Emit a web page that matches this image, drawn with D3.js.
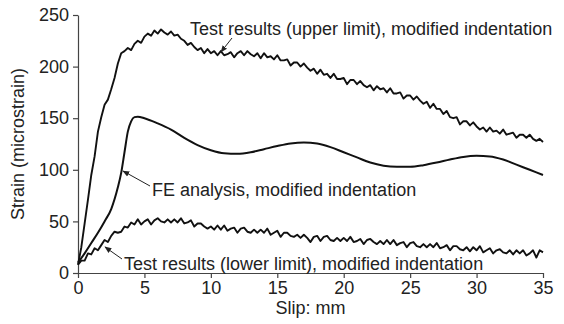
<!DOCTYPE html>
<html>
<head>
<meta charset="utf-8">
<script src="https://cdn.jsdelivr.net/npm/d3@7"></script>
<style>
  body { margin: 0; background: #fff; }
  svg { font-family: "Liberation Sans", Arial, sans-serif; }
</style>
</head>
<body>
<svg id="chart" width="564" height="324"></svg>
<script>
// sample positions (mm) of the test records
const slip = [
  0,0.25,0.5,0.75,1,1.25,1.5,1.75,2,2.25,2.5,2.75,3,3.25,3.5,3.75,4,4.25,4.5,4.75,
  5,5.25,5.5,5.75,6,6.25,6.5,6.75,7,7.25,7.5,7.75,8,8.25,8.5,8.75,9,9.25,9.5,9.75,
  10,10.25,10.5,10.75,11,11.25,11.5,11.75,12,12.25,12.5,12.75,13,13.25,13.5,13.75,14,14.25,14.5,14.75,
  15,15.25,15.5,15.75,16,16.25,16.5,16.75,17,17.25,17.5,17.75,18,18.25,18.5,18.75,19,19.25,19.5,19.75,
  20,20.25,20.5,20.75,21,21.25,21.5,21.75,22,22.25,22.5,22.75,23,23.25,23.5,23.75,24,24.25,24.5,24.75,
  25,25.25,25.5,25.75,26,26.25,26.5,26.75,27,27.25,27.5,27.75,28,28.25,28.5,28.75,29,29.25,29.5,29.75,
  30,30.25,30.5,30.75,31,31.25,31.5,31.75,32,32.25,32.5,32.75,33,33.25,33.5,33.75,34,34.25,34.5,34.75,35
];

// test results, upper limit (microstrain)
const upperStrain = [
  8,25,48,71,95,113,137,151,163,168,178,189,203,213,215,218,216,222,225,223,
  229,232,230,235,232,236,233,231,234,230,231,227,225,221,223,219,216,218,213,217,
  213,215,211,215,211,212,214,209,213,215,211,215,212,210,213,208,213,209,210,207,
  211,206,206,207,201,204,204,200,203,199,196,198,193,197,192,193,189,193,188,188,
  189,183,187,187,183,186,182,180,182,177,181,178,179,175,179,174,174,175,169,172,
  172,168,171,167,164,166,160,164,159,159,154,157,151,150,151,144,147,147,143,146,
  142,139,141,137,141,137,138,135,139,134,135,136,131,134,134,131,134,130,128,130,127
];

// test results, lower limit (microstrain)
const lowerStrain = [
  8,12,12,19,18,24,22,27,32,30,36,40,39,40,45,44,49,47,52,47,
  50,52,47,51,53,50,49,52,49,52,49,53,48,49,51,45,48,48,45,43,
  45,42,46,42,46,41,43,44,39,43,44,40,39,42,39,42,39,43,37,39,
  41,35,39,39,36,35,37,34,37,34,30,35,36,31,35,36,32,31,34,31,
  34,31,35,30,31,33,28,32,33,30,28,31,28,32,28,32,27,29,30,25,
  29,30,26,25,28,25,28,25,29,24,25,27,22,26,26,23,22,25,21,25,
  22,26,20,22,24,19,22,23,20,19,22,18,22,19,22,17,19,22,15,22,20
];

// FE analysis (smooth)
const feSlip   = [0,0.5,1,1.5,2,2.5,3,3.25,3.5,3.75,4,4.25,4.5,5,6,7,8,9,10,11,12,13,14,15,16,17,18,19,20,21,22,23,24,25,26,27,28,29,30,31,32,33,34,35];
const feStrain = [10,19,29,39,50,62,83,97,117,137,147,151,151.5,150,145,139,131,124,119,116,115.5,117,120,123,125.5,126.5,125.5,122,117,112,107,104,103,103,104.5,107,110,112.5,113.5,113,110,105,100,95];

const xTicks = [0,5,10,15,20,25,30,35];
const yTicks = [0,50,100,150,200,250];

const labels = [
  { text: "Test results (upper limit), modified indentation", x: 190, y: 35, from: [232, 38], to: [221, 52] },
  { text: "FE analysis, modified indentation", x: 152, y: 196, from: [150, 186], to: [123, 171] },
  { text: "Test results (lower limit), modified indentation", x: 124, y: 270, from: [122, 259], to: [105, 247] }
];

const svg = d3.select("#chart");
const mLeft = 78, mRight = 543, mTop = 15, mBottom = 273;

const x = d3.scaleLinear().domain([0, 35]).range([mLeft, mRight]);
const y = d3.scaleLinear().domain([0, 250]).range([mBottom, mTop]);

// axes
const xAxis = svg.append("g")
  .attr("transform", `translate(0,${mBottom})`)
  .call(d3.axisBottom(x).tickValues(xTicks).tickSize(5).tickSizeOuter(0).tickPadding(3));
const yAxis = svg.append("g")
  .attr("transform", `translate(${mLeft},0)`)
  .call(d3.axisLeft(y).tickValues(yTicks).tickSize(5).tickSizeOuter(0).tickPadding(4));

[xAxis, yAxis].forEach(g => {
  g.select(".domain").attr("stroke", "#444").attr("stroke-width", 1.2);
  g.selectAll(".tick line").attr("stroke", "#444").attr("stroke-width", 1.2);
  g.selectAll(".tick text").attr("fill", "#222").style("font-size", "18px")
    .style("font-family", "'Liberation Sans', Arial, sans-serif");
});

// series
const noisy = d3.line().x((d, i) => x(slip[i])).y(d => y(d));
svg.append("path").datum(upperStrain)
  .attr("d", noisy).attr("fill", "none").attr("stroke", "#111")
  .attr("stroke-width", 1.9).attr("stroke-linejoin", "round");
svg.append("path").datum(lowerStrain)
  .attr("d", noisy).attr("fill", "none").attr("stroke", "#111")
  .attr("stroke-width", 1.9).attr("stroke-linejoin", "round");

const feLine = d3.line().curve(d3.curveMonotoneX)
  .x((d, i) => x(feSlip[i])).y(d => y(d));
svg.append("path").datum(feStrain)
  .attr("d", feLine).attr("fill", "none").attr("stroke", "#111").attr("stroke-width", 2);

// annotations
svg.append("defs").append("marker")
  .attr("id", "head").attr("viewBox", "0 0 10 10").attr("refX", 9).attr("refY", 5)
  .attr("markerWidth", 7).attr("markerHeight", 7).attr("orient", "auto")
  .append("path").attr("d", "M0,1 L10,5 L0,9 z").attr("fill", "#222");

labels.forEach(l => {
  svg.append("line")
    .attr("x1", l.from[0]).attr("y1", l.from[1]).attr("x2", l.to[0]).attr("y2", l.to[1])
    .attr("stroke", "#222").attr("stroke-width", 1).attr("marker-end", "url(#head)");
  svg.append("text").attr("x", l.x).attr("y", l.y)
    .attr("fill", "#222").style("font-size", "18px").text(l.text);
});

// axis titles
svg.append("text").attr("x", (mLeft + mRight) / 2).attr("y", 314)
  .attr("text-anchor", "middle").attr("fill", "#222").style("font-size", "18px").text("Slip: mm");
svg.append("text").attr("transform", `translate(24,${(mTop + mBottom) / 2}) rotate(-90)`)
  .attr("text-anchor", "middle").attr("fill", "#222").style("font-size", "18px").text("Strain (microstrain)");
</script>
</body>
</html>
